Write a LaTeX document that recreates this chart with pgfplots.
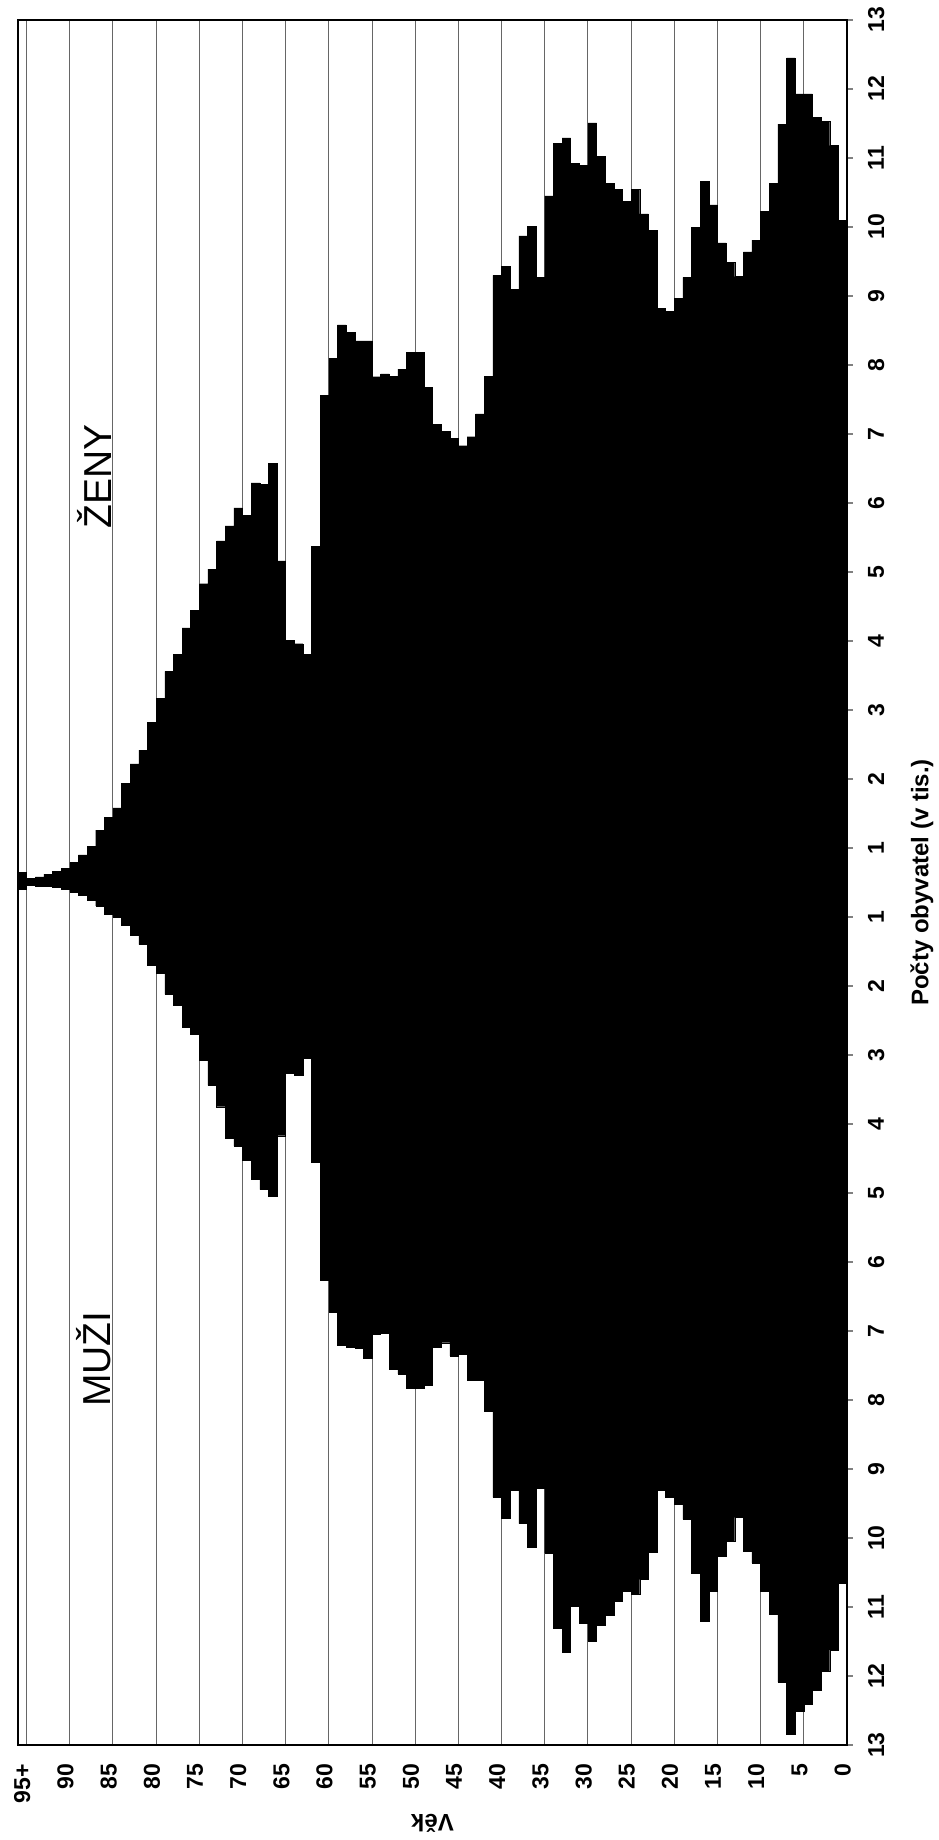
\documentclass[border=0pt]{standalone}
\usepackage{pgfplots}
\pgfplotsset{compat=1.18}
\usepackage{fontspec}
\setmainfont{Liberation Sans}
\begin{document}
\begin{tikzpicture}
\begin{axis}[
  name=ax,
  at={(0,0)}, anchor=south west,
  scale only axis, width=414.5pt, height=862.5pt,
  xmin=-0.5, xmax=95.5, x dir=reverse,
  ymin=-12.5, ymax=12.5,
  xtick={0,5,10,15,20,25,30,35,40,45,50,55,60,65,70,75,80,85,90,95},
  xticklabels={0,5,10,15,20,25,30,35,40,45,50,55,60,65,70,75,80,85,90,95+},
  minor xtick={4.5,9.5,14.5,19.5,24.5,29.5,34.5,39.5,44.5,49.5,54.5,59.5,64.5,69.5,74.5,79.5,84.5,89.5,94.5},
  xminorgrids=true,
  minor x grid style={black!60, line width=0.5pt},
  minor tick length=0pt,
  xtick style={draw=none},
  ytick={-12.5,-11.5,-10.5,-9.5,-8.5,-7.5,-6.5,-5.5,-4.5,-3.5,-2.5,-1.5,-0.5,0.5,1.5,2.5,3.5,4.5,5.5,6.5,7.5,8.5,9.5,10.5,11.5,12.5},
  yticklabels={13,12,11,10,9,8,7,6,5,4,3,2,1,1,2,3,4,5,6,7,8,9,10,11,12,13},
  ytick pos=right, yticklabel pos=right,
  tick align=outside, major tick length=3pt,
  ytick style={line width=0.6pt},
  xticklabel style={rotate=90, anchor=east, font=\bfseries\fontsize{11.5}{12}\selectfont},
  yticklabel style={rotate=90, anchor=north, font=\bfseries\fontsize{11.5}{12}\selectfont},
  xticklabel shift=3pt, yticklabel shift=4pt,
  axis line style={line width=0.9pt},
  /pgf/number format/assume math mode=true,
  clip=true,
]
% women (thousands)
\addplot[ybar, bar width=1, bar shift=0pt, fill=black, draw=black, line width=0.2pt] coordinates {
(0,9.60) (1,10.68) (2,11.03) (3,11.09) (4,11.43) (5,11.43) (6,11.95) (7,10.99) (8,10.13) (9,9.73)
(10,9.31) (11,9.14) (12,8.78) (13,8.99) (14,9.27) (15,9.82) (16,10.16) (17,9.49) (18,8.77) (19,8.47)
(20,8.28) (21,8.32) (22,9.45) (23,9.69) (24,10.05) (25,9.87) (26,10.05) (27,10.13) (28,10.52) (29,11.01)
(30,10.39) (31,10.42) (32,10.79) (33,10.71) (34,9.95) (35,8.77) (36,9.51) (37,9.37) (38,8.60) (39,8.93)
(40,8.80) (41,7.34) (42,6.79) (43,6.46) (44,6.33) (45,6.44) (46,6.54) (47,6.64) (48,7.18) (49,7.68)
(50,7.68) (51,7.44) (52,7.34) (53,7.37) (54,7.33) (55,7.85) (56,7.85) (57,7.97) (58,8.08) (59,7.60)
(60,7.06) (61,4.87) (62,3.31) (63,3.46) (64,3.51) (65,4.66) (66,6.07) (67,5.77) (68,5.79) (69,5.32)
(70,5.43) (71,5.17) (72,4.95) (73,4.54) (74,4.33) (75,3.94) (76,3.69) (77,3.31) (78,3.06) (79,2.67)
(80,2.32) (81,1.92) (82,1.72) (83,1.44) (84,1.08) (85,0.94) (86,0.76) (87,0.52) (88,0.40) (89,0.29)
(90,0.20) (91,0.16) (92,0.12) (93,0.08) (94,0.06) (95,0.15)
};
% men (thousands, negative)
\addplot[ybar, bar width=1, bar shift=0pt, fill=black, draw=black, line width=0.2pt] coordinates {
(0,-10.16) (1,-11.12) (2,-11.43) (3,-11.71) (4,-11.91) (5,-12.01) (6,-12.35) (7,-11.59) (8,-10.60) (9,-10.27)
(10,-9.86) (11,-9.69) (12,-9.20) (13,-9.54) (14,-9.77) (15,-10.27) (16,-10.71) (17,-10.01) (18,-9.23) (19,-9.01)
(20,-8.91) (21,-8.81) (22,-9.71) (23,-10.10) (24,-10.31) (25,-10.27) (26,-10.42) (27,-10.62) (28,-10.77) (29,-10.99)
(30,-10.73) (31,-10.49) (32,-11.15) (33,-10.81) (34,-9.72) (35,-8.78) (36,-9.64) (37,-9.29) (38,-8.81) (39,-9.21)
(40,-8.91) (41,-7.66) (42,-7.22) (43,-7.22) (44,-6.83) (45,-6.86) (46,-6.67) (47,-6.73) (48,-7.29) (49,-7.33)
(50,-7.33) (51,-7.12) (52,-7.05) (53,-6.53) (54,-6.55) (55,-6.89) (56,-6.75) (57,-6.73) (58,-6.71) (59,-6.23)
(60,-5.77) (61,-4.06) (62,-2.55) (63,-2.79) (64,-2.76) (65,-3.67) (66,-4.54) (67,-4.45) (68,-4.30) (69,-4.03)
(70,-3.82) (71,-3.70) (72,-3.25) (73,-2.94) (74,-2.58) (75,-2.20) (76,-2.10) (77,-1.78) (78,-1.62) (79,-1.32)
(80,-1.20) (81,-0.90) (82,-0.76) (83,-0.62) (84,-0.50) (85,-0.46) (86,-0.34) (87,-0.26) (88,-0.18) (89,-0.14)
(90,-0.10) (91,-0.07) (92,-0.06) (93,-0.05) (94,-0.04) (95,-0.10)
};
\node[rotate=90, font=\fontsize{19.5}{20}\selectfont] at (axis cs:86.7,5.88) {ŽENY};
\node[rotate=90, font=\fontsize{19.5}{20}\selectfont] at (axis cs:86.7,-6.91) {MUŽI};
\end{axis}
\node[rotate=180, font=\bfseries\fontsize{12}{13}\selectfont] at ([yshift=-39pt]ax.south) {Věk};
\node[rotate=90, font=\bfseries\fontsize{12}{13}\selectfont] at ([xshift=37.5pt]ax.east) {Počty obyvatel (v tis.)};
\pgfresetboundingbox
\useasboundingbox ([xshift=-9pt,yshift=-47.5pt]ax.south west) rectangle ([xshift=46pt,yshift=10pt]ax.north east);
\end{tikzpicture}
\end{document}
